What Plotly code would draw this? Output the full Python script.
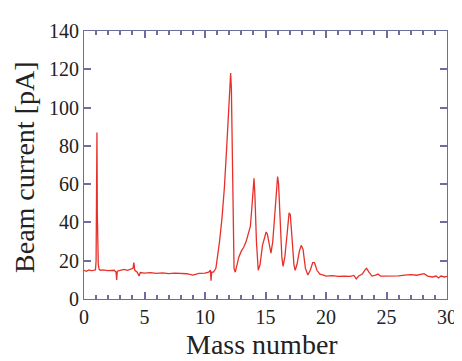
import plotly.graph_objects as go

mass = [0, 0.2, 0.4, 0.6, 0.8, 0.95, 1.0, 1.04, 1.07, 1.1, 1.14, 1.18, 1.25, 1.35,
        1.5, 2.0, 2.5, 2.65, 2.7, 2.75, 3.0, 3.3, 3.6, 3.9, 4.05, 4.12, 4.2, 4.4, 4.55, 4.65,
        5.0, 5.5, 6.0, 6.5, 7.0, 7.5, 8.0, 8.5, 9.0, 9.3, 9.5, 10.0, 10.3, 10.45, 10.5, 10.55,
        10.7, 10.9, 11.0, 11.2, 11.4, 11.6, 11.8, 11.95, 12.05, 12.12, 12.18, 12.25, 12.32,
        12.4, 12.5, 12.65, 12.8, 13.0, 13.2, 13.4, 13.6, 13.75, 13.9, 14.0, 14.05, 14.12,
        14.25, 14.4, 14.55, 14.75, 14.9, 15.05, 15.15, 15.3, 15.45, 15.6, 15.75, 15.9, 16.0,
        16.08, 16.2, 16.35, 16.45, 16.6, 16.8, 16.95, 17.05, 17.2, 17.35, 17.45, 17.6, 17.8,
        17.95, 18.1, 18.3, 18.5, 18.7, 18.9, 19.05, 19.25, 19.5, 19.8, 20.0, 20.5, 21.0,
        21.5, 22.0, 22.3, 22.5, 22.7, 23.0, 23.2, 23.35, 23.55, 23.8, 24.1, 24.3, 24.5,
        25.0, 25.5, 26.0, 26.5, 27.0, 27.5, 27.8, 28.1, 28.4, 28.8, 29.1, 29.3, 29.5, 29.8, 30.0]
current = [15, 14.5, 15.2, 14.8, 15, 15.3, 20, 55, 87, 45, 24, 18, 15.5, 15,
           15.2, 14.8, 15, 14, 10, 14.5, 15, 15.5, 15, 15.8, 16, 19, 15, 14, 12, 13.8,
           13.5, 13.8, 13.4, 13.6, 13.3, 13.5, 13.4, 13.2, 12.5, 13, 13.4, 13.5, 14, 15, 9.5, 14,
           14, 16, 20, 30, 42, 58, 80, 100, 115, 118, 110, 70, 35,
           16, 14, 18, 22, 25, 27, 30, 34, 38, 50, 62, 63, 55,
           30, 15, 18, 28, 32, 35, 34, 28, 24, 30, 45, 58, 64,
           60, 42, 22, 17, 22, 35, 45, 44, 30, 18, 15, 18, 25,
           28, 26, 16, 12.5, 15, 19, 19, 15, 13, 12.5, 12, 12.2, 11.8,
           12, 11.8, 12.3, 10.5, 12, 13, 15, 16, 14, 12, 12.5, 13, 12,
           12, 12.3, 12.1, 12.5, 12.7, 12.4, 13, 13.2, 12, 11.5, 12, 11, 12, 11.5, 11.8]

x_ticks = [0, 5, 10, 15, 20, 25, 30]
y_ticks = [0, 20, 40, 60, 80, 100, 120, 140]

axis_color = "#6d6d9e"
font_family = "Liberation Serif"
text_color = "#222222"

fig = go.Figure(go.Scatter(x=mass, y=current, mode="lines",
                           line=dict(color="#e8302a", width=1.3)))

fig.update_layout(
    width=454, height=353,
    margin=dict(l=76, r=15, t=23, b=62),
    paper_bgcolor="white", plot_bgcolor="white",
    showlegend=False,
    font=dict(family=font_family, color=text_color, size=20),
    annotations=[
        dict(text="Mass number", xref="paper", yref="paper", x=0.49, y=-0.168,
             xanchor="center", yanchor="middle", showarrow=False,
             font=dict(size=28, family=font_family, color=text_color)),
        dict(text="Beam current [pA]", xref="paper", yref="paper", x=-0.1625, y=0.489,
             xanchor="center", yanchor="middle", showarrow=False, textangle=-90,
             font=dict(size=28, family=font_family, color=text_color)),
    ],
)
fig.update_xaxes(
    range=[0, 30], tickvals=x_ticks, ticks="inside", ticklen=7, tickwidth=1.5,
    tickcolor=axis_color, showline=True, linecolor=axis_color, linewidth=1.2,
    mirror="ticks", showgrid=False, zeroline=False, automargin=False,
    minor=dict(dtick=1, ticks="inside", ticklen=4, tickcolor=axis_color, showgrid=False),
    tickfont=dict(size=20, family=font_family, color=text_color),
)
fig.update_yaxes(
    range=[0, 140], tickvals=y_ticks, ticks="inside", ticklen=7, tickwidth=1.5,
    tickcolor=axis_color, showline=True, linecolor=axis_color, linewidth=1.2,
    mirror="ticks", showgrid=False, zeroline=False, automargin=False,
    tickfont=dict(size=20, family=font_family, color=text_color),
)

fig.write_html("out.html")
